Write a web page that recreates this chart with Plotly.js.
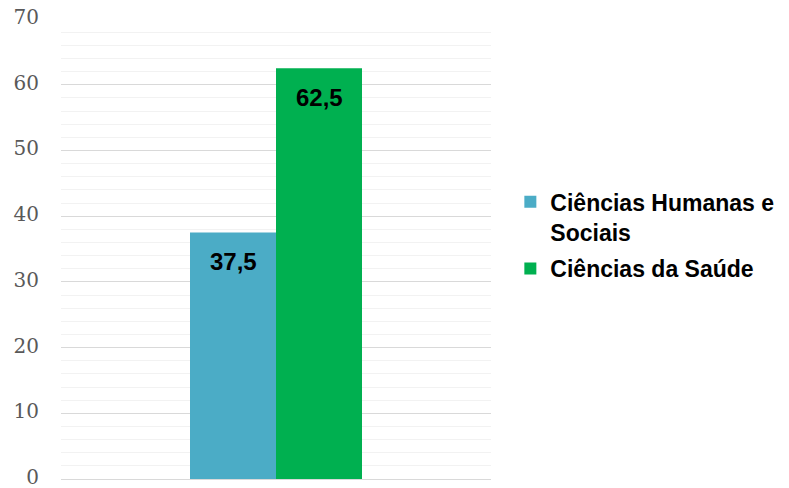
<!DOCTYPE html>
<html>
<head>
<meta charset="utf-8">
<script src="https://cdn.plot.ly/plotly-3.0.1.min.js"></script>
<style>html,body{margin:0;padding:0;background:#fff;}#chart{width:789px;height:488px;}</style>
</head>
<body>
<div id="chart"></div>
<script>
var categories = ["Área"];
var seriesNames = ["Ciências Humanas e<br>Sociais", "Ciências da Saúde"];
var humanasValues = [37.5];
var saudeValues = [62.5];
var yTickVals = [0, 10, 20, 30, 40, 50, 60, 70];
var yTickText = ["0", "10", "20", "30", "40", "50", "60", "70"];

var seriesValues = [humanasValues, saudeValues];
var seriesColors = ["#4bacc6", "#00b050"];
var labelFont = {family: "Liberation Sans, Arial", size: 24, color: "#000", weight: "bold"};

var traces = seriesValues.map(function (vals, i) {
  return {type: "bar", name: seriesNames[i], x: categories, y: vals,
          legendgroup: "g" + i, marker: {color: seriesColors[i]}, hoverinfo: "none"};
});

var annotations = [];
seriesValues.forEach(function (vals, i) {
  vals.forEach(function (v, j) {
    annotations.push({x: j, y: v, xref: "x", yref: "y",
      text: v.toFixed(1).replace(".", ","), showarrow: false,
      xshift: (i - 0.5) * 86, yshift: -29, yanchor: "middle", xanchor: "center",
      font: labelFont});
  });
});

var layout = {
  width: 789, height: 488,
  margin: {l: 61, r: 298, t: 19, b: 9},
  paper_bgcolor: "#fff", plot_bgcolor: "#fff",
  separators: ",.",
  barmode: "group", bargap: 0.6, bargroupgap: 0,
  showlegend: true,
  annotations: annotations,
  legend: {x: 1.045, xanchor: "left", y: 0.53, yanchor: "middle", valign: "top",
           font: {family: "Liberation Sans, Arial", size: 23, color: "#000", weight: "bold"},
           tracegroupgap: 4, itemwidth: 30},
  xaxis: {type: "category", range: [-0.5, 0.5], autorange: false, showticklabels: false, showgrid: false,
          zeroline: false, showline: false, fixedrange: true},
  yaxis: {range: [0, 70], autorange: false, tickvals: yTickVals, ticktext: yTickText, showgrid: true, gridcolor: "#d9d9d9", gridwidth: 1,
          zeroline: true, zerolinecolor: "#d9d9d9", zerolinewidth: 1, showline: false, ticks: "",
          ticklabelstandoff: 21, ticklabeloverflow: "allow", ticklabelshift: -2,
          tickfont: {family: "DejaVu Serif, serif", size: 20, color: "#595959"},
          minor: {dtick: 2, showgrid: true, gridcolor: "#f2f2f2", gridwidth: 1}, fixedrange: true}
};

Plotly.newPlot("chart", traces, layout, {displayModeBar: false, staticPlot: true});
</script>
</body>
</html>
